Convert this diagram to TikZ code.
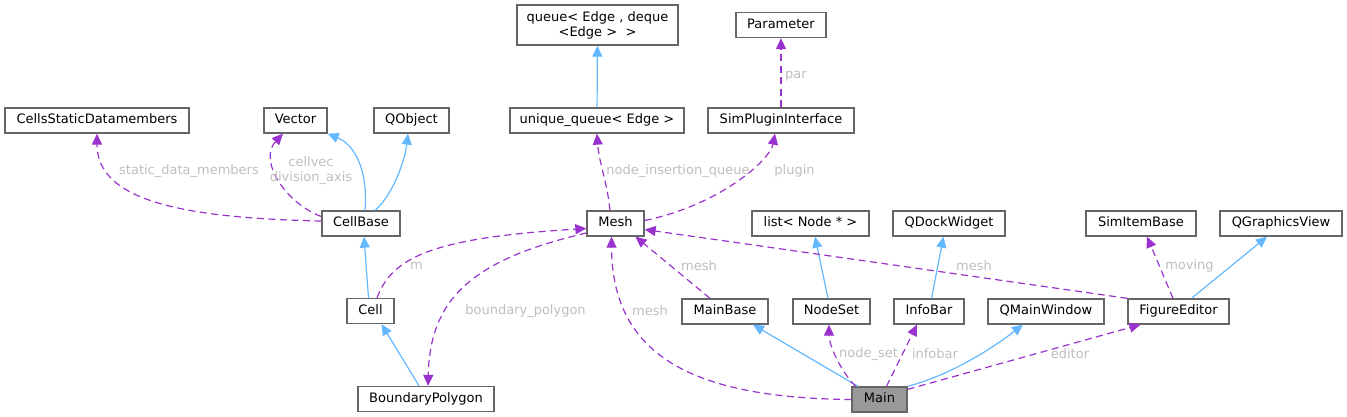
\documentclass[tikz,border=0pt]{standalone}
\usepackage{fontspec}
\setmainfont{DejaVu Sans}
\usetikzlibrary{arrows.meta}
\definecolor{inhblue}{RGB}{99,184,255}
\definecolor{relpurple}{RGB}{154,50,205}
\definecolor{boxline}{RGB}{102,102,102}
\definecolor{mainfill}{RGB}{153,153,153}
\definecolor{lblgray}{RGB}{190,190,190}
\begin{document}
\begin{tikzpicture}[x=1pt,y=-1pt,font=\fontsize{13}{15}\selectfont,
 box/.style={draw=boxline,line width=1.3pt,fill=white,inner sep=0pt},
 cls/.style={box,minimum height=25,text height=9.5pt,text depth=3pt},
 inh/.style={draw=inhblue,line width=1.2pt,-{Triangle[length=11pt,width=10pt]}},
 rel/.style={draw=relpurple,line width=1.2pt,dash pattern=on 7pt off 4.5pt,-{Triangle[length=11pt,width=10pt,fill=relpurple]}},
 lbl/.style={text=lblgray,inner sep=0pt,align=center}]
\useasboundingbox(0,0)rectangle(1347,417);
% classes
\node[cls,minimum width=184](cellsdm)at(97,120.5){CellsStaticDatamembers};
\node[cls,minimum width=63](vector)at(295.5,120.5){Vector};
\node[cls,minimum width=75](qobject)at(411.5,120.5){QObject};
\node[cls,minimum width=78](cellbase)at(361,223.5){CellBase};
\node[box,minimum width=161,minimum height=40,align=center](queue)at(597.5,25){queue< Edge , deque\\<Edge >~ >};
\node[cls,minimum width=90](param)at(781,25){Parameter};
\node[cls,minimum width=174](uqueue)at(597,120.5){unique\_queue< Edge >};
\node[cls,minimum width=146](spi)at(781,120.5){SimPluginInterface};
\node[cls,minimum width=57](mesh)at(615.5,223.5){Mesh};
\node[cls,minimum width=117](nodelist)at(810.5,223.5){list< Node * >};
\node[cls,minimum width=112](qdock)at(949,223.5){QDockWidget};
\node[cls,minimum width=110](simitem)at(1141,223.5){SimItemBase};
\node[cls,minimum width=122](qgview)at(1281,223.5){QGraphicsView};
\node[cls,minimum width=47](cell)at(370.5,311){Cell};
\node[cls,minimum width=86](mainbase)at(725,311.5){MainBase};
\node[cls,minimum width=77](nodeset)at(831.5,311.5){NodeSet};
\node[cls,minimum width=70](infobar)at(929,311.5){InfoBar};
\node[cls,minimum width=116](qmainwin)at(1046,311.5){QMainWindow};
\node[cls,minimum width=101](figed)at(1178.5,311.5){FigureEditor};
\node[cls,minimum width=136](bpoly)at(426,399){BoundaryPolygon};
\node[cls,minimum width=55,fill=mainfill](main)at(879.5,399.5){Main};
% inheritance
\draw[inh](uqueue)--(queue);
\draw[inh]([xshift=4]cellbase.north)..controls(368,170)and(355,145)..(vector.south east);
\draw[inh]([xshift=14]cellbase.north)..controls(393,195)and(405,160)..([xshift=-3.5]qobject.south);
\draw[inh]([xshift=-2]cell.north)--([xshift=3]cellbase.south);
\draw[inh]([xshift=-7]bpoly.north)--([xshift=11]cell.south);
\draw[inh]([xshift=-21.5]main.north)--([xshift=28]mainbase.south);
\draw[inh]([xshift=-3.5]nodeset.north)--([xshift=4.5]nodelist.south);
\draw[inh]([xshift=2.5]infobar.north)--([xshift=-5.5]qdock.south);
\draw[inh](main.north east)..controls(950,375)and(990,350)..([xshift=-23]qmainwin.south);
\draw[inh]([xshift=13]figed.north)--([xshift=-14]qgview.south);
% members
\draw[rel](spi)--(param);
\draw[rel]([xshift=-5.5]mesh.north)..controls(607,181)and(599,163)..(uqueue.south);
\draw[rel]([yshift=3]mesh.east)..controls(720,205)and(770,160)..([xshift=-6]spi.south);
\draw[rel]([yshift=7]cellbase.west)..controls(285,203)and(258,160)..([xshift=-12.5]vector.south);
\draw[rel]([yshift=2.5]cellbase.west)..controls(180,218)and(97,200)..(cellsdm.south);
\draw[rel]([xshift=6.5]cell.north)..controls(392,258)and(430,238)..([yshift=-5]mesh.west);
\draw[rel]([yshift=-9.5]mesh.west)..controls(470,260)and(430,300)..([xshift=2]bpoly.north);
\draw[rel](main.west)..controls(700,398)and(612,360)..([xshift=-4]mesh.south);
\draw[rel]([xshift=-15]mainbase.north)--([xshift=20]mesh.south);
\draw[rel]([xshift=-24]main.north)..controls(840,370)and(829,345)..([xshift=-2.5]nodeset.south);
\draw[rel]([xshift=7]main.north)--([xshift=-12]infobar.south);
\draw[rel]([yshift=-3]main.north east)--([xshift=-38]figed.south);
\draw[rel](figed.north west)--([yshift=-6]mesh.east);
\draw[rel]([xshift=-5.5]figed.north)--([xshift=6]simitem.south);
% labels
\node[lbl](l-par)at(796,76){par};
\node[lbl](l-niq)at(678,171){node\_insertion\_queue};
\node[lbl](l-plugin)at(794.5,171){plugin};
\node[lbl](l-sdm)at(189,171){static\_data\_members};
\node[lbl](l-cellvec)at(311,171){cellvec\\division\_axis};
\node[lbl](l-m)at(416.5,266){m};
\node[lbl](l-bpoly)at(525.5,311){boundary\_polygon};
\node[lbl](l-mesha)at(650,311){mesh};
\node[lbl](l-meshb)at(699,266){mesh};
\node[lbl](l-nodeset)at(868.5,354){node\_set};
\node[lbl](l-infobar)at(935,354){infobar};
\node[lbl](l-editor)at(1070,354){editor};
\node[lbl](l-meshc)at(974,266){mesh};
\node[lbl](l-moving)at(1189.5,266){moving};
\end{tikzpicture}
\end{document}
